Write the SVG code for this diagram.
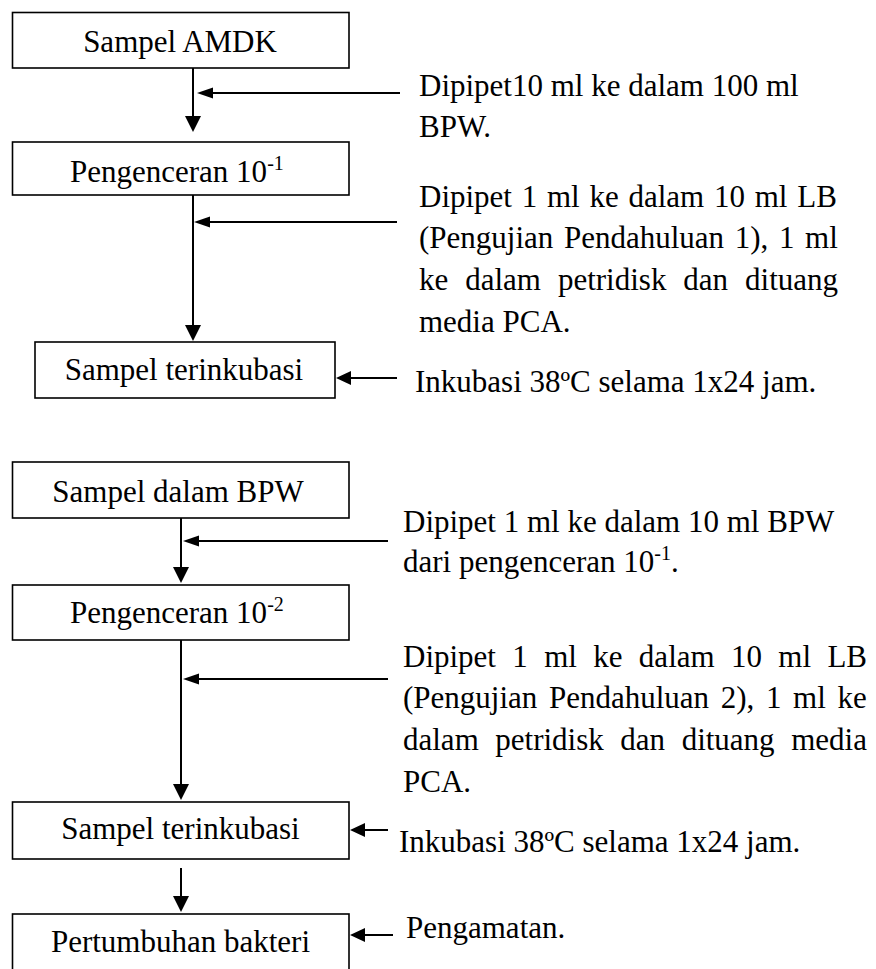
<svg xmlns="http://www.w3.org/2000/svg" width="876" height="969" viewBox="0 0 876 969">
<style>
  .box { fill: #fff; stroke: #000; stroke-width: 1.6; }
  .ln { stroke: #000; stroke-width: 2; fill: none; }
  .hd { fill: #000; stroke: none; }
  text { font-family: "Liberation Serif", "Times New Roman", serif; font-size: 31px; fill: #000; }
  .c { text-anchor: middle; }
  .sup { font-size: 20px; }
</style>
<rect width="876" height="969" fill="#fff"/>

<g id="connectors">
  <!-- top flow -->
  <line class="ln" x1="193" y1="68" x2="193" y2="118"/>
  <polygon class="hd" points="193,132 185,116 201,116"/>
  <line class="ln" x1="400" y1="93" x2="210" y2="93"/>
  <polygon class="hd" points="197,93 213,87.5 213,98.5"/>
  <line class="ln" x1="193" y1="195" x2="193" y2="327"/>
  <polygon class="hd" points="193,341 185,325 201,325"/>
  <line class="ln" x1="397" y1="222" x2="208" y2="222"/>
  <polygon class="hd" points="194,222 210,216.5 210,227.5"/>
  <line class="ln" x1="397" y1="378" x2="348" y2="378"/>
  <polygon class="hd" points="336,378 351,371 351,385"/>
  <!-- bottom flow -->
  <line class="ln" x1="181" y1="518" x2="181" y2="570"/>
  <polygon class="hd" points="181,583 173,567 189,567"/>
  <line class="ln" x1="388" y1="541" x2="196" y2="541"/>
  <polygon class="hd" points="183,541 199,535.5 199,546.5"/>
  <line class="ln" x1="181" y1="640" x2="181" y2="787"/>
  <polygon class="hd" points="181,800 173,784 189,784"/>
  <line class="ln" x1="388" y1="679" x2="196" y2="679"/>
  <polygon class="hd" points="183,679 199,673.5 199,684.5"/>
  <line class="ln" x1="388" y1="830" x2="362" y2="830"/>
  <polygon class="hd" points="350,830 365,823 365,837"/>
  <line class="ln" x1="181" y1="868" x2="181" y2="900"/>
  <polygon class="hd" points="181,912 173,896 189,896"/>
  <line class="ln" x1="393" y1="935" x2="362" y2="935"/>
  <polygon class="hd" points="350,935 365,928 365,942"/>
</g>

<g id="n1"><rect class="box" x="12.5" y="12.5" width="336.5" height="55.5"/><text class="c" x="180" y="52">Sampel AMDK</text></g>
<g id="n2"><rect class="box" x="12.5" y="142" width="336.5" height="53"/><text x="70" y="182">Pengenceran 10<tspan class="sup" dy="-12">-1</tspan></text></g>
<g id="n3"><rect class="box" x="35" y="342" width="300" height="56"/><text class="c" x="184" y="380">Sampel terinkubasi</text></g>

<g id="t1">
  <text x="419" y="96">Dipipet10 ml ke dalam 100 ml</text>
  <text x="419" y="137">BPW.</text>
</g>
<g id="t2">
  <text x="419" y="207" word-spacing="2">Dipipet 1 ml ke dalam 10 ml LB</text>
  <text x="419" y="248" word-spacing="2.9">(Pengujian Pendahuluan 1), 1 ml</text>
  <text x="419" y="290" word-spacing="9.2">ke dalam petridisk dan dituang</text>
  <text x="419" y="332">media PCA.</text>
</g>
<g id="t3"><text x="415" y="392">Inkubasi 38ºC selama 1x24 jam.</text></g>

<g id="n4"><rect class="box" x="12.5" y="462" width="336.5" height="56"/><text class="c" x="178" y="502">Sampel dalam BPW</text></g>
<g id="n5"><rect class="box" x="12.5" y="585" width="336.5" height="55"/><text x="70" y="623">Pengenceran 10<tspan class="sup" dy="-12">-2</tspan></text></g>
<g id="n6"><rect class="box" x="12.5" y="802" width="336.5" height="57"/><text class="c" x="180.5" y="839">Sampel terinkubasi</text></g>
<g id="n7"><rect class="box" x="12.5" y="914" width="336.5" height="80"/><text class="c" x="180.5" y="952">Pertumbuhan bakteri</text></g>

<g id="t4">
  <text x="403" y="532">Dipipet 1 ml ke dalam 10 ml BPW</text>
  <text x="403" y="572">dari pengenceran 10<tspan class="sup" dy="-12">-1</tspan><tspan dy="12">.</tspan></text>
</g>
<g id="t5">
  <text x="403" y="667" word-spacing="8.6">Dipipet 1 ml ke dalam 10 ml LB</text>
  <text x="403" y="708" word-spacing="3.9">(Pengujian Pendahuluan 2), 1 ml ke</text>
  <text x="403" y="750" word-spacing="8.8">dalam petridisk dan dituang media</text>
  <text x="403" y="792">PCA.</text>
</g>
<g id="t6"><text x="399" y="852">Inkubasi 38ºC selama 1x24 jam.</text></g>
<g id="t7"><text x="406" y="938">Pengamatan.</text></g>
</svg>
